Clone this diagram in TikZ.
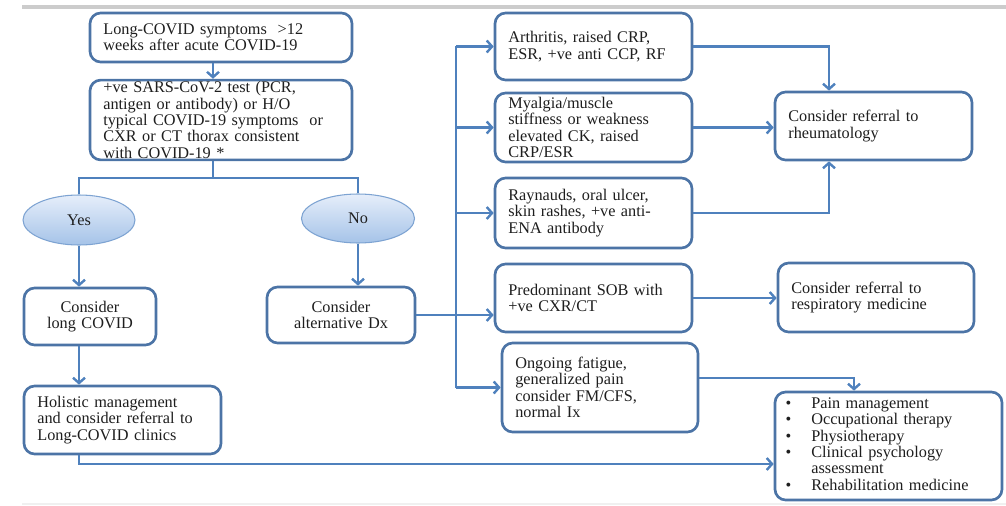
\documentclass[tikz,border=0pt]{standalone}
\usepackage{fontspec}
\setmainfont{Liberation Serif}
\usepackage{xcolor}
\usetikzlibrary{shapes.geometric,arrows.meta,positioning}

\definecolor{lineblue}{RGB}{79,129,189}
\definecolor{boxblue}{RGB}{76,116,166}
\definecolor{ovaltop}{RGB}{230,238,250}
\definecolor{ovalbot}{RGB}{165,195,232}
\definecolor{ovalrim}{RGB}{125,163,210}
\definecolor{textgray}{RGB}{30,30,30}
\newcommand{\flowfont}{\fontsize{12.2}{12.3}\selectfont\spaceskip=0.38em plus 0.1em\relax}

\begin{document}
\begin{tikzpicture}[
    x=0.75pt, y=-0.75pt,
    font=\flowfont,
    block/.style={rectangle, draw=boxblue, line width=2pt, rounded corners=8pt, fill=white, text=textgray, align=left, inner xsep=10pt, inner ysep=1pt},
    decision/.style={ellipse, draw=ovalrim, line width=0.8pt, top color=ovaltop, bottom color=ovalbot, text=textgray, inner sep=0pt},
    line/.style={draw=lineblue, line width=1.8pt},
    arrow/.style={line, -{Straight Barb[length=4pt,width=9pt]}}
]

% Frame
\useasboundingbox (0,0) rectangle (1006,506);
\draw[gray!40, line width=2.4pt] (22,7) -- (1006,7);
\draw[gray!12, line width=1pt] (22,504) -- (1006,504);

% Nodes
\node[block, text width=176.5pt, minimum height=36.75pt] (onset) at (221,37.5) {Long-COVID symptoms \ >12\\weeks after acute COVID-19};
\node[block, text width=176.5pt, minimum height=58.5pt] (test) at (221,120) {+ve SARS-CoV-2 test (PCR,\\antigen or antibody) or H/O\\typical COVID-19 symptoms \ or\\CXR or CT thorax consistent\\with COVID-19 *};
\node[decision, minimum width=84pt, minimum height=37.5pt] (yes) at (79,220) {Yes};
\node[decision, minimum width=84.75pt, minimum height=36.75pt] (no) at (358,218.5) {No};
\node[block, align=center, text width=79pt, minimum height=42.75pt] (longcovid) at (90,316.5) {Consider\\long COVID};
\node[block, align=center, text width=91pt, minimum height=42pt] (altdx) at (341,315) {Consider\\alternative Dx};
\node[block, text width=127.75pt, minimum height=51pt] (holistic) at (122.5,420) {Holistic management\\and consider referral to\\Long-COVID clinics};

\node[block, text width=127.75pt, minimum height=50.25pt] (arthritis) at (593.5,46.5) {Arthritis, raised CRP,\\ESR, +ve anti CCP, RF};
\node[block, text width=127.75pt, minimum height=51.75pt] (myalgia) at (593.5,127.5) {Myalgia/muscle\\stiffness or weakness\\elevated CK, raised\\CRP/ESR};
\node[block, text width=127.75pt, minimum height=52.5pt] (raynauds) at (593.5,213) {Raynauds, oral ulcer,\\skin rashes, +ve anti-\\ENA antibody};
\node[block, text width=127.75pt, minimum height=51pt] (sob) at (593.5,298) {Predominant SOB with\\+ve CXR/CT};
\node[block, text width=127pt, minimum height=66.75pt] (fatigue) at (600,387.5) {Ongoing fatigue,\\generalized pain\\consider FM/CFS,\\normal Ix};

\node[block, text width=127.75pt, minimum height=51pt] (rheum) at (873.5,126) {Consider referral to\\rheumatology};
\node[block, text width=127pt, minimum height=51.75pt] (resp) at (876,297.5) {Consider referral to\\respiratory medicine};
\node[block, inner xsep=8pt, text width=154.25pt, minimum height=81pt] (rehab) at (888.5,446) {%
  \begin{tabular}{@{}l@{\hspace{15pt}}l@{}}
  \textbullet & Pain management\\
  \textbullet & Occupational therapy\\
  \textbullet & Physiotherapy\\
  \textbullet & Clinical psychology\\
              & assessment\\
  \textbullet & Rehabilitation medicine
  \end{tabular}};

% Helper coordinates
\coordinate (split) at (0,178);
\coordinate (bus) at (456,0);
\coordinate (rcol) at (829,0);
\coordinate (fcol) at (854,0);
\coordinate (botline) at (0,464);

% Arrows
\draw[arrow] ([xshift=-6pt]onset.south) -- ([xshift=-6pt]test.north);
\draw[line] ([xshift=-6pt]test.south) -- ([xshift=-6pt]test.south |- split);
\draw[line] (yes.north) -- (yes.north |- split) -- (no.north |- split) -- (no.north);
\draw[arrow] (yes.south) -- (yes.south |- longcovid.north);
\draw[arrow] (no.south) -- (no.south |- altdx.north);
\draw[arrow] (longcovid.south -| yes.south) -- (holistic.north -| yes.south);
\draw[arrow] (holistic.south -| yes.south) |- (rehab.west |- botline);

\draw[line] (bus |- arthritis) -- (bus |- fatigue);
\foreach \n in {arthritis, myalgia, raynauds, fatigue}
  \draw[arrow] (bus |- \n) -- (\n.west);
\draw[arrow] (altdx.east) -- (altdx.east -| sob.west);

\draw[arrow] (arthritis.east) -| (rheum.north -| rcol);
\draw[arrow] (myalgia.east) -- (myalgia.east -| rheum.west);
\draw[arrow] (raynauds.east) -| (rheum.south -| rcol);
\draw[arrow] (sob.east) -- (sob.east -| resp.west);
\draw[arrow] ([yshift=7pt]fatigue.east) -| (rehab.north -| fcol);

\end{tikzpicture}
\end{document}
